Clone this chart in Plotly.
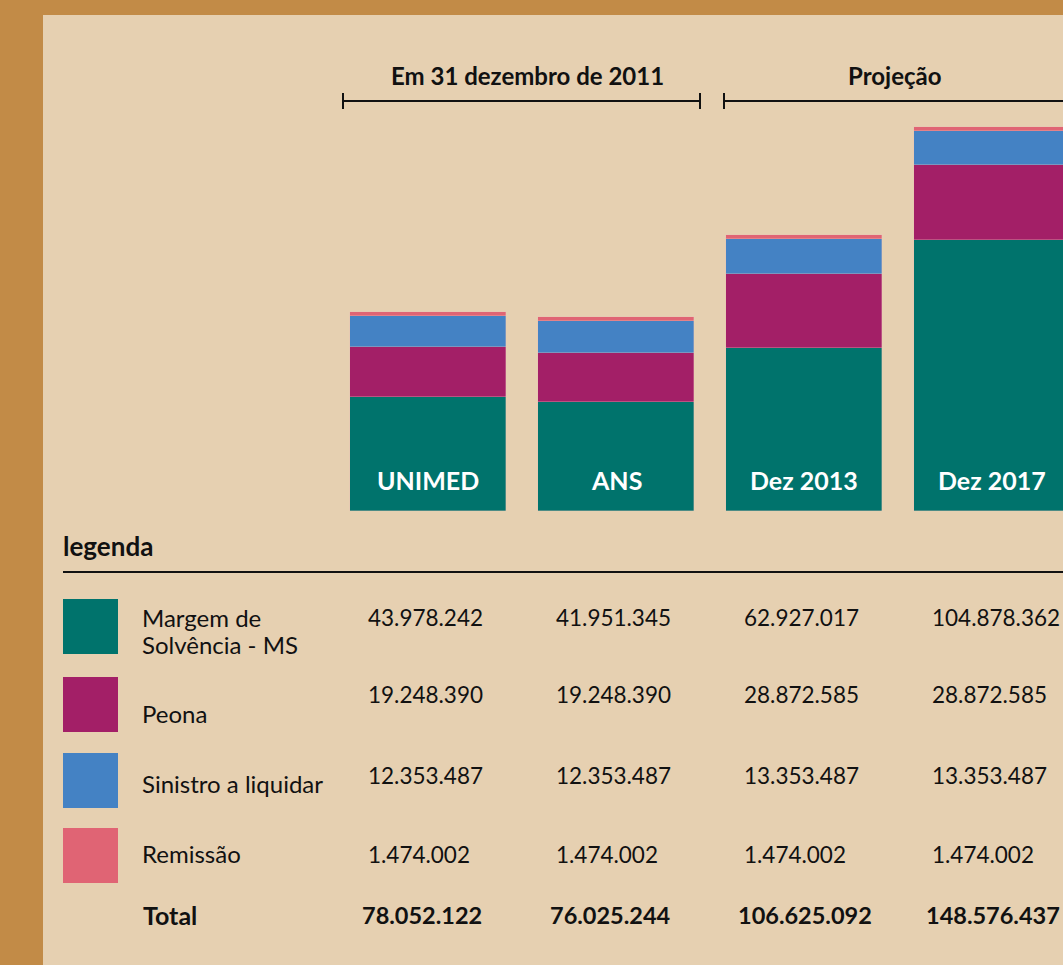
import plotly.graph_objects as go

# ---------------- data ----------------
categories = ["UNIMED", "ANS", "Dez 2013", "Dez 2017"]
series_names = ["Margem de Solvência - MS", "Peona", "Sinistro a liquidar", "Remissão"]
legend_labels = ["Margem de<br>Solvência - MS", "Peona", "Sinistro a liquidar", "Remissão"]
margem = [43978242, 41951345, 62927017, 104878362]
peona = [19248390, 19248390, 28872585, 28872585]
sinistro = [12353487, 12353487, 13353487, 13353487]
remissao = [1474002, 1474002, 1474002, 1474002]
totals = [78052122, 76025244, 106625092, 148576437]
group_labels = ["Em 31 dezembro de 2011", "Projeção"]
legend_title = "legenda"
total_label = "Total"

colors = ["#00736c", "#a31f67", "#4482c4", "#e06474"]
series = [margem, peona, sinistro, remissao]

# ---------------- geometry helpers ----------------
W, H = 1063, 965
X0, STEP = 428.0, 188.0          # pixel centre of first bar, spacing
BASE, PXM = 510.5, 2.58          # baseline pixel, pixels per million

def xd(px):
    return (px - X0) / STEP

def xp(px):
    return px / W

def yp(py):
    return 1 - py / H

FONT = "Lato"
INK = "#111111"

fig = go.Figure()
xs = list(range(len(categories)))
for name, vals, col in zip(series_names, series, colors):
    fig.add_trace(go.Bar(
        x=xs, y=vals, name=name, width=156 / STEP,
        marker=dict(color=col, line=dict(width=0.6, color="rgba(235,190,185,0.55)")),
        hoverinfo="skip", showlegend=False,
    ))

shapes = []
annotations = []

def ann(**kw):
    kw.setdefault("showarrow", False)
    kw.setdefault("yanchor", "middle")
    kw.setdefault("xanchor", "center")
    annotations.append(kw)

# inner beige panel
shapes.append(dict(type="rect", xref="paper", yref="paper", layer="below",
                   x0=xp(43), x1=1.02, y0=-0.02, y1=yp(15),
                   fillcolor="#e6d0b1", line=dict(width=0)))

# group brackets
def bracket(px0, px1, tick_right=True):
    yy = yp(101)
    shapes.append(dict(type="line", xref="x", yref="paper", x0=xd(px0), x1=xd(px1), y0=yy, y1=yy,
                       line=dict(color=INK, width=2)))
    shapes.append(dict(type="line", xref="x", yref="paper", x0=xd(px0), x1=xd(px0), y0=yp(93), y1=yp(109),
                       line=dict(color=INK, width=2)))
    if tick_right:
        shapes.append(dict(type="line", xref="x", yref="paper", x0=xd(px1), x1=xd(px1), y0=yp(93), y1=yp(109),
                           line=dict(color=INK, width=2)))

bracket(343, 700)
bracket(724, 1075, tick_right=False)
ann(x=xd(527), y=yp(75), xref="x", yref="paper", text="<b>%s</b>" % group_labels[0],
    font=dict(family=FONT, size=24, color=INK))
ann(x=xd(895), y=yp(75), xref="x", yref="paper", text="<b>%s</b>" % group_labels[1],
    font=dict(family=FONT, size=24, color=INK))

# bar category labels
for i, c in enumerate(categories):
    ann(x=i, y=yp(480), xref="x", yref="paper", text="<b>%s</b>" % c,
        font=dict(family=FONT, size=25, color="white"))

# legend header and rule
ann(x=xp(61), y=yp(546), xref="paper", yref="paper", xanchor="left",
    text="<b>%s</b>" % legend_title, font=dict(family=FONT, size=26, color=INK))
shapes.append(dict(type="line", xref="paper", yref="paper", x0=xp(63), x1=1.01, y0=yp(572), y1=yp(572),
                   line=dict(color=INK, width=2)))

# legend rows
sq_tops = [599, 677, 753, 828]
label_y = [617, 713, 783, 853]
value_y = [617, 694, 775, 854]
LINE_GAP = 27
for r in range(4):
    shapes.append(dict(type="rect", xref="paper", yref="paper",
                       x0=xp(63), x1=xp(118), y0=yp(sq_tops[r] + 55), y1=yp(sq_tops[r]),
                       fillcolor=colors[r], line=dict(width=0)))
    for k, line in enumerate(legend_labels[r].split("<br>")):
        ann(x=xp(140), y=yp(label_y[r] + k * LINE_GAP), xref="paper", yref="paper", xanchor="left",
            text=line, align="left",
            font=dict(family=FONT, size=24, color=INK))
    for i in range(len(categories)):
        v = series[r][i]
        ann(x=i + xd(366), y=yp(value_y[r]), xref="x", yref="paper", xanchor="left",
            text=f"{v:,}".replace(",", "."),
            font=dict(family=FONT, size=22.5, color=INK))

ann(x=xp(141), y=yp(915), xref="paper", yref="paper", xanchor="left",
    text="<b>%s</b>" % total_label, font=dict(family=FONT, size=25, color=INK))
for i, t in enumerate(totals):
    ann(x=i + xd(360), y=yp(915), xref="x", yref="paper", xanchor="left",
        text="<b>%s</b>" % f"{t:,}".replace(",", "."),
        font=dict(family=FONT, size=23.5, color=INK))

fig.update_layout(
    width=W, height=H,
    margin=dict(l=0, r=0, t=0, b=0, pad=0),
    paper_bgcolor="#c28b47",
    plot_bgcolor="rgba(0,0,0,0)",
    barmode="stack",
    bargap=0,
    xaxis=dict(range=[xd(0), xd(W)], visible=False, fixedrange=True),
    yaxis=dict(range=[-(H - BASE) * 1e6 / PXM, BASE * 1e6 / PXM], visible=False, fixedrange=True),
    shapes=shapes,
    annotations=annotations,
    font=dict(family=FONT),
)

fig.write_html("out.html", config={"displayModeBar": False},
               post_script="document.body.style.margin='0';")
